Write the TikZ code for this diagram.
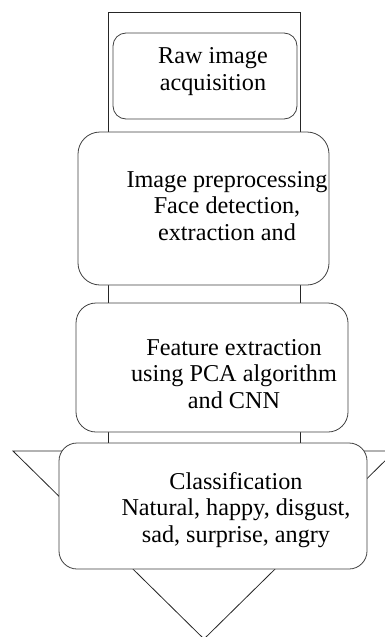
\documentclass[tikz,border=0pt]{standalone}
\usepackage{fontspec}
\setmainfont{Liberation Serif}
\begin{document}
\begin{tikzpicture}[x=1pt,y=-1pt,
  boxst/.style={draw=black!75,fill=white,line width=0.8pt,inner sep=0pt},
  txt/.style={align=center,inner sep=0pt,font=\fontsize{24.2}{26.5}\selectfont},
  shaft/.style={draw=black!85,line width=0.8pt}]
\useasboundingbox (0,0) rectangle (385,637);
\clip (0,0) rectangle (385,637);
% big arrow outline
\coordinate (hl) at (13,451);
\coordinate (hr) at (395,451);
\coordinate (tip) at (204,639);
\coordinate (sbl) at (108,451);
\coordinate (stl) at (108,12);
\coordinate (str) at (300,12);
\coordinate (sbr) at (300,451);
\draw[shaft,fill=white] (hl) -- (tip) -- (hr) -- cycle;
\draw[shaft] (sbl) -- (stl) -- (str) -- (sbr);
% boxes
\node[boxst,rounded corners=13pt,minimum width=184pt,minimum height=86pt] (b1) at (205,76) {};
\node[boxst,rounded corners=22pt,minimum width=251pt,minimum height=153pt] (b2) at (203.5,208.5) {};
\node[boxst,rounded corners=20pt,minimum width=272pt,minimum height=129pt] (b3) at (212,367.5) {};
\node[boxst,rounded corners=18pt,minimum width=308pt,minimum height=126pt] (b4) at (213,506) {};
% texts (anchor at baseline of last line)
\node[txt,anchor=base] (t1) at (213,90) {Raw image\\acquisition};
\node[txt,anchor=base] (t2) at (227,240) {Image preprocessing\\Face detection,\\extraction and};
\node[txt,anchor=base] (t3) at (234,408) {Feature extraction\\using PCA algorithm\\and CNN};
\node[txt,anchor=base] (t4) at (236,542) {Classification\\Natural, happy, disgust,\\sad, surprise, angry};
\end{tikzpicture}
\end{document}
